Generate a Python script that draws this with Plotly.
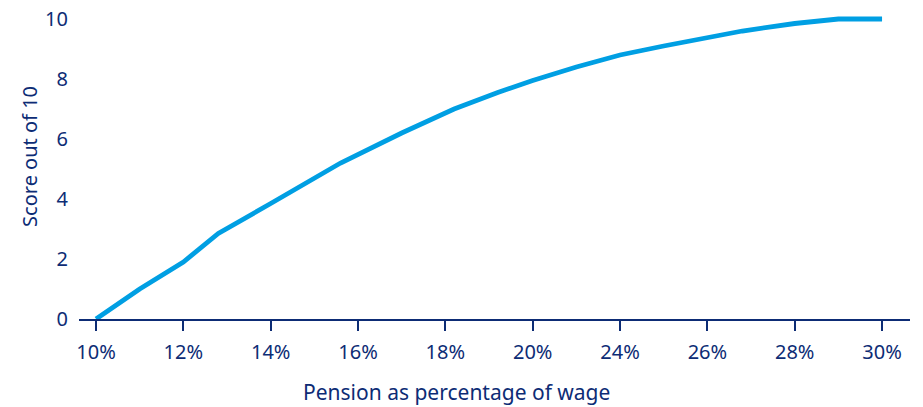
import plotly.graph_objects as go

# Tick labels along the horizontal axis (evenly spaced positions 0..9)
tick_labels = ["10%", "12%", "14%", "16%", "18%", "20%", "24%", "26%", "28%", "30%"]
tick_positions = list(range(len(tick_labels)))

# Curve vertices, x given in tick-position units
curve_pos = [0.0, 0.5, 1.0, 1.4, 2.0, 2.8, 3.5, 4.1, 4.6, 5.0, 5.5, 6.0, 6.5, 7.0, 7.4, 8.0, 8.5, 9.0]
curve_score = [0.0, 1.0, 1.9, 2.85, 3.85, 5.2, 6.2, 7.0, 7.55, 7.95, 8.4, 8.8, 9.1, 9.4, 9.6, 9.85, 10.0, 10.0]

x_title = "Pension as percentage of wage"
y_title = "Score out of 10"

NAVY = "#0d2c75"
BLUE = "#009fe3"
FONT = "Noto Sans"

fig = go.Figure()
fig.add_trace(go.Scatter(
    x=curve_pos, y=curve_score, mode="lines",
    line=dict(color=BLUE, width=4.8),
    hoverinfo="skip", showlegend=False,
))

fig.update_layout(
    width=923, height=407,
    margin=dict(l=79, r=13, t=16, b=88),
    paper_bgcolor="white", plot_bgcolor="white",
    font=dict(family=FONT, color=NAVY, size=20),
    xaxis=dict(
        range=[-0.195, 9.32], automargin=False,
        tickmode="array", tickvals=tick_positions, ticktext=tick_labels,
        showgrid=False, zeroline=False,
        showline=True, linecolor=NAVY, linewidth=2,
        ticks="outside", ticklen=10, tickwidth=2, tickcolor=NAVY,
        ticklabelstandoff=4,
        tickfont=dict(size=20, color=NAVY),
    ),
    yaxis=dict(
        range=[0, 10.1], automargin=False,
        tickmode="array", tickvals=[0, 2, 4, 6, 8, 10],
        showgrid=False, zeroline=False, showline=False,
        ticks="", ticklabelstandoff=10,
        tickfont=dict(size=20, color=NAVY),
    ),
)

# Axis titles placed as annotations so they can sit off the plot-area centre
fig.add_annotation(
    text=x_title, xref="paper", yref="paper", x=0.4537, y=0,
    xanchor="center", yanchor="middle", yshift=-73, showarrow=False,
    borderpad=0,
    font=dict(size=21, color=NAVY, family=FONT),
)
fig.add_annotation(
    text=y_title, xref="paper", yref="paper", x=0, y=0.535,
    xanchor="center", yanchor="middle", xshift=-49, textangle=-90, showarrow=False,
    font=dict(size=20, color=NAVY, family=FONT),
)

fig.write_html("out.html")
